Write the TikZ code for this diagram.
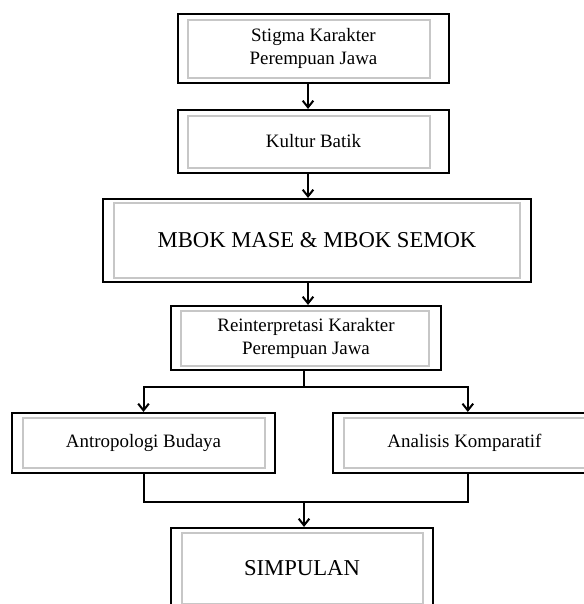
\documentclass[tikz,border=0pt]{standalone}
\usepackage{fontspec}
\setmainfont{Liberation Serif}
\usetikzlibrary{arrows.meta}
\usetikzlibrary{calc}

\tikzset{
  frame/.style={draw, line width=1.6pt, inner sep=0pt, align=center,
    font=\fontsize{14.2}{17.3}\selectfont},
  bigframe/.style={frame, font=\fontsize{17}{20}\selectfont},
  innerbox/.style={draw=black!22, line width=1.1pt},
  link/.style={line width=1.5pt},
  arr/.style={link, -{Straight Barb[length=5pt, width=8pt]}},
}

\begin{document}
\begin{tikzpicture}[x=0.75pt, y=-0.75pt]
    \useasboundingbox (0,0) rectangle (584,604);
    \clip (0,0) rectangle (584,604);
    % main axis
    \coordinate (top) at (308,0);
    \coordinate (split) at (304,387);
    \coordinate (join) at (304,502);
    % boxes
    \node [frame, minimum width=203.25pt, minimum height=51.75pt] (stigma) at (313.5,48.5) {Stigma Karakter\\Perempuan Jawa};
    \node [frame, minimum width=203.25pt, minimum height=47.25pt] (kultur) at (313.5,141.5) {Kultur Batik};
    \node [bigframe, minimum width=321pt, minimum height=62.25pt] (mbok) at (317,240.5) {MBOK MASE \& MBOK SEMOK};
    \node [frame, minimum width=202.5pt, minimum height=48pt] (reint) at (306,338) {Reinterpretasi Karakter\\Perempuan Jawa};
    \node [frame, minimum width=197.25pt, minimum height=45pt] (antro) at (143.5,443) {Antropologi Budaya};
    \node [frame, minimum width=197.25pt, minimum height=45pt] (analisis) at (464.5,443) {Analisis Komparatif};
    \node [bigframe, minimum width=196.5pt, minimum height=60.75pt] (simpulan) at (302,568.5) {SIMPULAN};
    % grey inner frames
    \foreach \n/\l/\t/\r/\b in {stigma/11/7/20/6, kultur/11/7/20/6, mbok/12/5/12/5,
        reint/11/6/13/5, antro/12/6/11/6, analisis/12/6/12/6, simpulan/12/6/11/6}
        \draw [innerbox] ($(\n.north west)+(\l,\t)$) rectangle ($(\n.south east)+(-\r,-\b)$);
    % main line
    \draw [arr] (stigma.south -| top) -- (kultur.north -| top);
    \draw [arr] (kultur.south -| top) -- (mbok.north -| top);
    \draw [arr] (mbok.south -| top) -- (reint.north -| top);
    % branches
    \draw [link] (reint.south -| split) -- (split);
    \draw [arr] (split) -| (antro.north);
    \draw [arr] (split) -| ([xshift=2.5]analisis.north);
    \draw [link] (antro.south) |- (join) -| ([xshift=2.5]analisis.south);
    \draw [arr] (join) -- (simpulan.north -| join);
\end{tikzpicture}
\end{document}
